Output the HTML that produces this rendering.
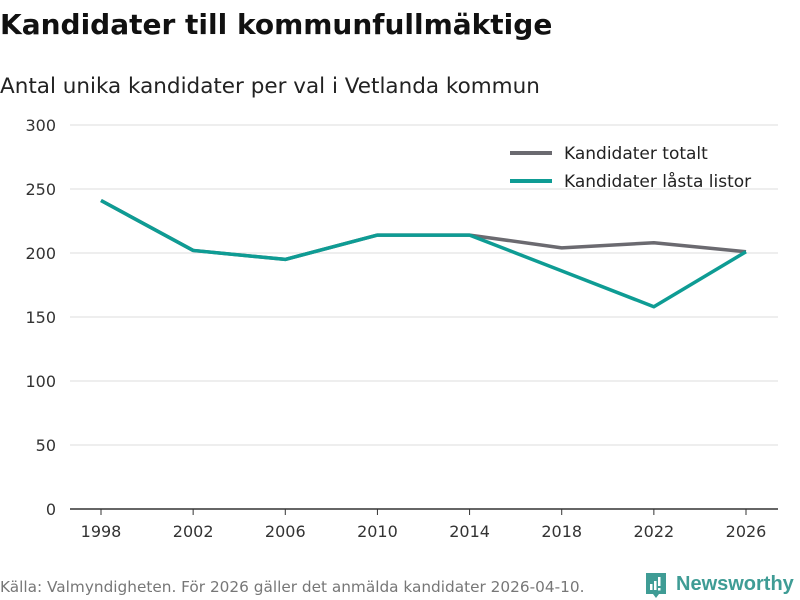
<!DOCTYPE html>
<html><head><meta charset="utf-8"><style>
body{margin:0;width:800px;height:600px;background:#fff;font-family:"DejaVu Sans","Liberation Sans",sans-serif;overflow:hidden}
svg{display:block}
</style></head><body>
<svg width="800" height="600" id="c">
<text x="0" y="34" font-size="28" font-weight="bold" fill="#111">Kandidater till kommunfullmäktige</text>
<text x="0" y="93" font-size="21.5" fill="#222">Antal unika kandidater per val i Vetlanda kommun</text>
<g id="grid"></g><g id="lines"></g>
<g>
<line x1="510" y1="153" x2="552" y2="153" stroke="#6b6a70" stroke-width="4"/>
<text x="564" y="159" font-size="17" fill="#222">Kandidater totalt</text>
<line x1="510" y1="181" x2="552" y2="181" stroke="#0e9c94" stroke-width="4"/>
<text x="564" y="187" font-size="17" fill="#222">Kandidater låsta listor</text>
</g>
<text x="0" y="592" font-size="15.3" fill="#777">Källa: Valmyndigheten. För 2026 gäller det anmälda kandidater 2026-04-10.</text>
<g>
<path d="M646 573h20v21h-7l-3 4-3-4h-7z" fill="#3f9c95"/>
<rect x="650" y="584" width="2.5" height="6" fill="#fff"/><rect x="654" y="581" width="2.5" height="9" fill="#fff"/><rect x="658" y="577" width="2.5" height="9" fill="#fff"/><rect x="658" y="588" width="2.5" height="2.5" fill="#fff"/>
<text x="676" y="590" font-size="20" font-family="Liberation Sans, sans-serif" font-weight="bold" fill="#3f9c95">Newsworthy</text>
</g>
</svg>
<script>
const years=[1998,2002,2006,2010,2014,2018,2022,2026];
const total=[241,202,195,214,214,204,208,201];
const locked=[241,202,195,214,214,186,158,201];
const yTicks=[0,50,100,150,200,250,300];
const NS="http://www.w3.org/2000/svg";
const x=v=>101+(v-1998)*(746-101)/28;
const y=v=>509-v*(509-125)/300;
const g=document.getElementById('grid'),L=document.getElementById('lines');
function mk(p,tag,a){const e=document.createElementNS(NS,tag);for(const k in a)e.setAttribute(k,a[k]);p.appendChild(e);return e;}
yTicks.forEach(t=>{
 const l=mk(g,'line',{x1:70,x2:778,y1:y(t),y2:y(t),stroke:t===0?'#333':'#ddd','stroke-width':t===0?1.5:1});
 
 
 const tx=mk(g,'text',{x:56,y:y(t)+6,'text-anchor':'end','font-size':16,fill:'#333'});tx.textContent=t;
 
 
});
years.forEach(v=>{
 const tk=mk(g,'line',{x1:x(v),x2:x(v),y1:509,y2:515,stroke:'#333'});
 
 
 const tx=mk(g,'text',{x:x(v),y:537,'text-anchor':'middle','font-size':16,fill:'#333'});tx.textContent=v;
 
 
});
function line(d,c,n){
 const p=mk(L,'polyline',{points:d.map((v,i)=>x(years[i])+','+y(v)).join(' '),fill:'none',stroke:c,'stroke-width':3.5,'stroke-linejoin':'round'});
 
 
}
line(total,'#6b6a70','line-kandidater-totalt');
line(locked,'#0e9c94','line-kandidater-lasta-listor');
</script>
</body></html>
